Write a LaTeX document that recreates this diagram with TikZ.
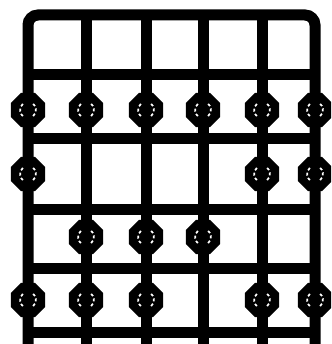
\documentclass[tikz,border=0pt]{standalone}
\usepackage{tikz}
\usetikzlibrary{shapes.geometric}

\begin{document}
\begin{tikzpicture}[x=1pt, y=-1pt,
    fret/.style={line width=11pt},
    fingerdot/.style={regular polygon, regular polygon sides=8, fill=black,
        minimum size=37pt, inner sep=0pt,
        path picture={\draw[white, line width=1.7pt, dash pattern=on 3pt off 2.5pt]
            ([shift={(130:8pt)}]path picture bounding box.center) arc (130:230:8pt)
            ([shift={(-50:8pt)}]path picture bounding box.center) arc (-50:50:8pt);}}]
    \clip (0,0) rectangle (331,344);
    % Nut and outer strings
    \draw[fret, rounded corners=10pt] (28,352) -- (28,15) -- (315,15) -- (315,352);
    % Inner strings
    \foreach \x in {86,146,203,262} {
        \draw[fret] (\x,15) -- (\x,352);
    }
    % Frets
    \foreach \y in {75,139,209,268,332} {
        \draw[fret] (28,\y) -- (315,\y);
    }
    % Finger dots
    \foreach \x in {28,86,146,203,262,315} {
        \node[fingerdot] (dotA-\x) at (\x,110) {};
    }
    \foreach \x in {28,262,315} {
        \node[fingerdot] (dotB-\x) at (\x,174) {};
    }
    \foreach \x in {86,146,203} {
        \node[fingerdot] (dotC-\x) at (\x,237) {};
    }
    \foreach \x in {28,86,146,262,315} {
        \node[fingerdot] (dotD-\x) at (\x,300) {};
    }
\end{tikzpicture}
\end{document}
